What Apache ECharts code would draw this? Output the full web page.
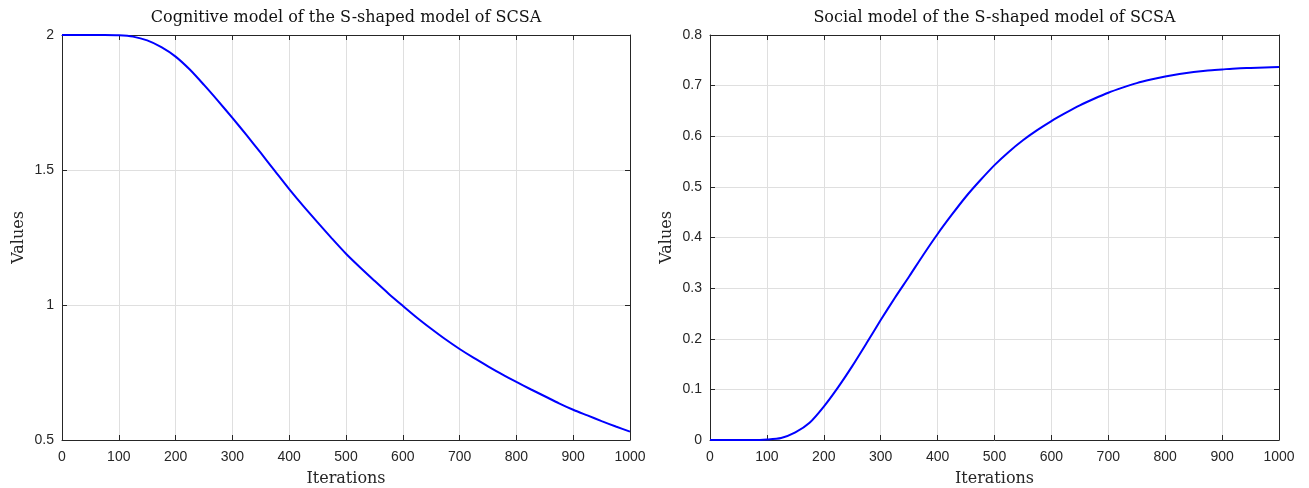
<!DOCTYPE html>
<html>
<head>
<meta charset="utf-8">
<script src="https://cdn.jsdelivr.net/npm/echarts@6/dist/echarts.min.js"></script>
<style>
html,body{margin:0;padding:0;background:#fff;}
#chart{width:1309px;height:488px;}
</style>
</head>
<body>
<div id="chart"></div>
<script>
// ---- Data ----
const iterations = [0, 25, 50, 75, 100, 125, 150, 175, 200, 225, 250, 275, 300, 325, 350, 375, 400, 425, 450, 475, 500, 525, 550, 575, 600, 625, 650, 675, 700, 725, 750, 775, 800, 825, 850, 875, 900, 925, 950, 975, 1000];
const cognitiveValues = [2.0, 2.0, 2.0, 2.0, 1.999, 1.994, 1.980, 1.955, 1.920, 1.872, 1.815, 1.755, 1.693, 1.629, 1.563, 1.496, 1.429, 1.366, 1.306, 1.247, 1.190, 1.139, 1.090, 1.042, 0.997, 0.953, 0.912, 0.873, 0.837, 0.804, 0.773, 0.743, 0.715, 0.688, 0.662, 0.636, 0.612, 0.591, 0.570, 0.550, 0.531];
const socialValues = [0, 0, 0, 0, 0.001, 0.004, 0.015, 0.034, 0.066, 0.104, 0.146, 0.191, 0.237, 0.281, 0.323, 0.366, 0.407, 0.445, 0.481, 0.513, 0.543, 0.569, 0.592, 0.612, 0.630, 0.646, 0.661, 0.674, 0.686, 0.696, 0.705, 0.712, 0.718, 0.723, 0.727, 0.730, 0.732, 0.734, 0.735, 0.736, 0.737];
const titles = ['Cognitive model of the S-shaped model of SCSA', 'Social model of the S-shaped model of SCSA'];
const xName = 'Iterations';
const yName = 'Values';

const serif = '"DejaVu Serif", "Liberation Serif", serif';
const sans = '"Liberation Sans", Arial, sans-serif';
const axisColor = '#262626';
const gridColor = '#dfdfdf';

function pairs(ys){ return iterations.map((x,i)=>[x, ys[i]]); }

function xAxes(gridIndex, title){
  return [
    { type:'value', gridIndex, min:0, max:1000, interval:100, position:'bottom',
      name:xName, nameLocation:'middle', nameGap:31,
      nameTextStyle:{fontFamily:serif, fontSize:16, color:axisColor},
      axisLine:{show:true, onZero:false, lineStyle:{color:axisColor, width:1}},
      axisTick:{show:true, inside:true, length:5, lineStyle:{color:axisColor}},
      axisLabel:{fontFamily:sans, fontSize:14, color:axisColor, margin:10, formatter:(v)=>String(v)},
      splitLine:{show:true, lineStyle:{color:gridColor, width:1}} },
    { type:'value', gridIndex, min:0, max:1000, interval:100, position:'top',
      name:title, nameLocation:'middle', nameGap:9,
      nameTextStyle:{fontFamily:serif, fontSize:16, color:'#111'},
      axisLine:{show:true, onZero:false, lineStyle:{color:axisColor, width:1}},
      axisTick:{show:true, inside:true, length:5, lineStyle:{color:axisColor}},
      axisLabel:{show:false}, splitLine:{show:false} }
  ];
}
function yAxes(gridIndex, min, max, interval){
  return [
    { type:'value', gridIndex, min, max, interval, position:'left',
      name:yName, nameLocation:'middle', nameGap:35, nameRotate:90,
      nameTextStyle:{fontFamily:serif, fontSize:16, color:axisColor},
      axisLine:{show:true, onZero:false, lineStyle:{color:axisColor, width:1}},
      axisTick:{show:true, inside:true, length:5, lineStyle:{color:axisColor}},
      axisLabel:{fontFamily:sans, fontSize:14, color:axisColor, margin:8},
      splitLine:{show:true, lineStyle:{color:gridColor, width:1}} },
    { type:'value', gridIndex, min, max, interval, position:'right',
      axisLine:{show:true, onZero:false, lineStyle:{color:axisColor, width:1}},
      axisTick:{show:true, inside:true, length:5, lineStyle:{color:axisColor}},
      axisLabel:{show:false}, splitLine:{show:false} }
  ];
}

const chart = echarts.init(document.getElementById('chart'), null, {renderer:'canvas'});
chart.setOption({
  animation:false,
  backgroundColor:'#ffffff',
  grid:[
    {left:62, right:679, top:35, bottom:48, containLabel:false, outerBoundsMode:'none'},
    {left:710, right:30, top:35, bottom:48, containLabel:false, outerBoundsMode:'none'}
  ],
  xAxis:[...xAxes(0, titles[0]), ...xAxes(1, titles[1])],
  yAxis:[...yAxes(0, 0.5, 2, 0.5), ...yAxes(1, 0, 0.8, 0.1)],
  series:[
    { type:'line', xAxisIndex:0, yAxisIndex:0, data:pairs(cognitiveValues),
      showSymbol:false, smooth:0.25,
      lineStyle:{color:'#0000ff', width:2} },
    { type:'line', xAxisIndex:2, yAxisIndex:2, data:pairs(socialValues),
      showSymbol:false, smooth:0.25,
      lineStyle:{color:'#0000ff', width:2} }
  ]
});
</script>
</body>
</html>
